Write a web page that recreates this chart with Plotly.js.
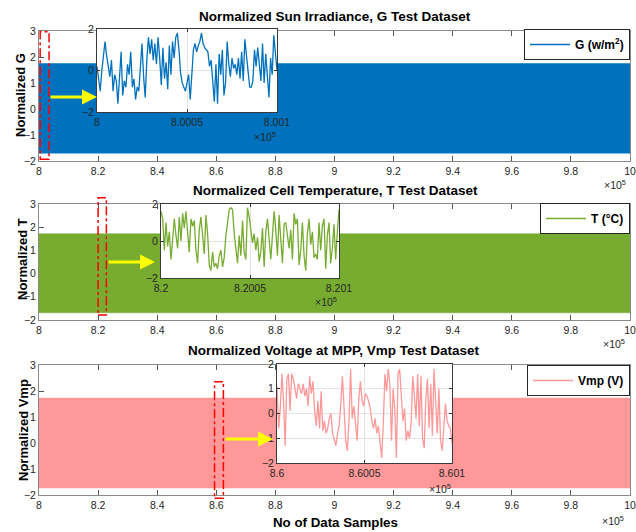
<!DOCTYPE html>
<html>
<head>
<meta charset="utf-8">
<script src="https://cdn.plot.ly/plotly-3.0.1.min.js"></script>
<style>html,body{margin:0;padding:0;background:#fff}#chart{width:636px;height:532px}</style>
</head>
<body>
<div id="chart"></div>
<script>
// ---------- data ----------
const bandX = [800000, 1000000];
const gUpper = [1.75, 1.75], gLower = [-1.7, -1.7];
const tUpper = [1.72, 1.72], tLower = [-1.69, -1.69];
const vUpper = [1.73, 1.73], vLower = [-1.73, -1.73];

const mainTickVals = [800000, 820000, 840000, 860000, 880000, 900000, 920000, 940000, 960000, 980000, 1000000];
const mainTickText = ['8', '8.2', '8.4', '8.6', '8.8', '9', '9.2', '9.4', '9.6', '9.8', '10'];

const gInsetStart = 800000, tInsetStart = 820000, vInsetStart = 860000, insetSpan = 100;
const gInsetTickText = ['8', '8.0005', '8.001'];
const tInsetTickText = ['8.2', '8.2005', '8.201'];
const vInsetTickText = ['8.6', '8.6005', '8.601'];

const gInset = [0.2,-0.5,-1.0,0.0,0.8,1.4,0.7,0.2,-0.3,0.5,
 -1.0,-0.2,-0.5,-1.6,-0.3,0.9,-1.2,-0.5,-0.8,0.3,
 -0.2,0.9,-0.8,-0.4,-1.4,-0.8,-1.0,0.2,1.3,-0.3,
 -1.3,0.5,1.6,0.8,1.5,0.5,1.3,0.3,1.6,0.6,
 -0.7,1.1,-0.4,0.4,-0.9,1.2,-0.2,1.4,0.6,1.6,
 1.8,1.0,-0.1,-0.6,-0.8,-1.0,-0.6,-0.2,-1.4,-0.3,
 1.0,1.3,0.9,1.2,1.4,1.8,1.3,1.1,1.0,0.9,
 0.2,0.5,-0.5,-1.5,0.3,-1.6,0.8,-0.2,1.0,-1.2,
 -0.6,1.4,0.3,-0.3,0.6,0.1,0.3,-0.2,0.6,-0.4,
 0.9,-0.5,1.5,0.8,-0.2,-0.8,-0.8,-0.5,1.0,0.2,
 1.1,0.4,-0.5,1.3,-0.6,0.8,-0.3,-1.3,0.6,-0.2,1.7,1.0,0.0];

const tInset = [1.6,1.2,-0.5,1.0,-0.3,0.5,-1.0,0.2,1.2,0.3,
 -0.4,1.3,0.0,1.5,0.7,1.6,0.2,-0.6,1.2,0.8,
 1.1,-0.5,-1.2,0.6,1.3,0.1,-0.7,1.4,0.4,-1.3,
 -1.6,-0.6,-1.4,-1.2,-1.5,-0.8,-0.5,-1.4,-0.9,0.3,
 1.0,1.7,1.8,1.7,0.4,-0.5,-1.2,0.3,-0.8,1.1,
 -0.6,-1.0,1.8,1.3,0.5,-0.1,0.4,-0.5,0.2,-1.1,
 -0.6,0.7,-1.4,0.5,1.2,0.2,-1.0,0.3,1.6,0.6,
 -0.8,1.4,-0.2,-1.2,0.9,1.0,0.3,-0.4,0.6,-1.0,
 1.5,0.9,1.2,-1.3,-0.5,1.0,-0.8,-1.6,0.4,1.2,
 -0.2,0.5,-0.9,-0.7,-1.0,1.0,-0.5,0.8,1.2,-1.5,
 0.3,1.0,-1.2,-0.4,0.9,-1.0,0.5,1.7];

const vInset = [1.1,-0.6,0.2,1.6,0.5,-1.3,1.4,1.6,0.1,1.6,
 1.4,0.9,0.6,1.2,1.0,0.8,1.2,0.7,1.0,0.3,
 1.5,0.8,1.3,0.1,-0.5,0.5,-0.6,0.9,-0.7,-0.3,
 -0.8,-0.6,-0.2,0.0,-0.8,-1.1,-1.3,-0.8,-0.5,0.4,
 1.5,0.2,-1.1,-1.5,-0.3,1.8,-0.2,0.3,-0.5,-1.1,
 0.6,1.3,0.5,0.3,0.8,0.7,0.5,0.2,-0.3,-0.6,
 -0.2,-0.8,-0.5,-1.1,-1.8,-0.4,1.6,0.9,1.8,1.2,
 -1.1,1.0,0.2,-1.8,1.6,1.8,0.5,-0.3,0.2,-1.1,
 -0.7,-1.0,-0.4,1.5,0.7,-0.2,1.6,-0.5,1.5,-1.0,
 -1.4,0.6,1.4,-0.6,1.2,-0.9,1.8,0.6,-0.8,1.0,
 -1.1,-1.5,-0.6,0.4,-0.3,-0.5,-0.6,-1.2];

// ---------- styles ----------
const W = 636, H = 532;
const FONT = 'Liberation Sans, Arial, Helvetica, sans-serif';
const TXT = '#262626';
const cG = '#0072BD', cT = '#77AC30', cV = '#FF9999';
const px = v => v / W;
const py = v => 1 - v / H;
const RIGHT = 630;

function sampleX(start, n) { return Array.from({length: n}, (_, i) => start + i * insetSpan / (n - 1)); }

const traces = [];
function band(xa, ya, up, lo, col) {
  traces.push({x: bandX, y: lo, xaxis: xa, yaxis: ya, mode: 'lines', line: {color: col, width: 0.5}, showlegend: false, hoverinfo: 'skip'});
  traces.push({x: bandX, y: up, xaxis: xa, yaxis: ya, mode: 'lines', line: {color: col, width: 0.5}, fill: 'tonexty', fillcolor: col, showlegend: false, hoverinfo: 'skip'});
}
band('x', 'y', gUpper, gLower, cG);
band('x2', 'y2', tUpper, tLower, cT);
band('x3', 'y3', vUpper, vLower, cV);

traces.push({x: sampleX(gInsetStart, gInset.length), y: gInset, xaxis: 'x4', yaxis: 'y4', mode: 'lines', line: {color: cG, width: 1.3}, name: '<b>G (w/m<sup>2</sup>)</b>', legend: 'legend'});
traces.push({x: sampleX(tInsetStart, tInset.length), y: tInset, xaxis: 'x5', yaxis: 'y5', mode: 'lines', line: {color: cT, width: 1.3}, name: '<b>T (°C)</b>', legend: 'legend2'});
traces.push({x: sampleX(vInsetStart, vInset.length), y: vInset, xaxis: 'x6', yaxis: 'y6', mode: 'lines', line: {color: cV, width: 1.3}, name: '<b>Vmp (V)</b>', legend: 'legend3'});

function mainX(y) {
  return {domain: [px(39), px(RIGHT)], anchor: y, range: [800000, 1000000], tickvals: mainTickVals, ticktext: mainTickText,
    ticks: 'inside', ticklen: 5, tickcolor: '#555', showline: true, linecolor: '#8a8a8a', linewidth: 1, mirror: 'ticks',
    showgrid: false, zeroline: false, layer: 'below traces', ticklabeloverflow: 'allow',
    tickfont: {family: FONT, size: 10.5, color: TXT}};
}
function mainY(x, top, bot) {
  return {domain: [py(bot), py(top)], anchor: x, range: [-2, 3], dtick: 1, tick0: 0,
    ticks: 'inside', ticklen: 5, tickcolor: '#555', showline: true, linecolor: '#8a8a8a', linewidth: 1, mirror: 'ticks',
    showgrid: false, zeroline: false, layer: 'below traces', ticklabeloverflow: 'allow',
    tickfont: {family: FONT, size: 10.5, color: TXT}};
}
function insetX(y, l, r, start, tt) {
  return {domain: [px(l), px(r)], anchor: y, range: [start, start + insetSpan], tickvals: [start, start + insetSpan / 2, start + insetSpan], ticktext: tt,
    ticks: 'inside', ticklen: 3, tickcolor: '#333', showline: true, linecolor: '#3a3a3a', linewidth: 1, mirror: 'ticks',
    showgrid: true, gridcolor: '#e3e3e3', zeroline: false, ticklabeloverflow: 'allow',
    tickfont: {family: FONT, size: 10.5, color: TXT}};
}
function insetY(x, top, bot, dt) {
  return {domain: [py(bot), py(top)], anchor: x, range: [-2, 2], dtick: dt, tick0: 0,
    ticks: 'inside', ticklen: 3, tickcolor: '#333', showline: true, linecolor: '#3a3a3a', linewidth: 1, mirror: 'ticks',
    showgrid: true, gridcolor: '#e3e3e3', zeroline: false, ticklabeloverflow: 'allow',
    tickfont: {family: FONT, size: 10.5, color: TXT}};
}

const ann = [];
function txt(x, y, text, size, extra) { ann.push(Object.assign({xref: 'paper', yref: 'paper', x: px(x), y: py(y), text: text, showarrow: false, xanchor: 'center', yanchor: 'middle', font: {family: FONT, size: size, color: '#000'}}, extra || {})); }
txt(335, 17, '<b>Normalized Sun Irradiance, G Test Dataset</b>', 13.5);
txt(335, 190.5, '<b>Normalized Cell Temperature, T Test Dataset</b>', 13.5);
txt(334, 350, '<b>Normalized Voltage at MPP, Vmp Test Dataset</b>', 13.5);
txt(335, 522, '<b>No of Data Samples</b>', 13.3);
txt(20, 95, '<b>Normalized G</b>', 13, {textangle: -90});
txt(22, 259, '<b>Normalized T</b>', 13, {textangle: -90});
txt(23, 430, '<b>Normalized Vmp</b>', 13, {textangle: -90});
const mult = '×10<sup>5</sup>';
const mFont = {family: FONT, size: 10.5, color: TXT};
txt(615, 184, mult, 10.5, {font: mFont});
txt(614, 343, mult, 10.5, {font: mFont});
txt(613, 520, mult, 10.5, {font: mFont});
txt(265, 136, mult, 10.5, {font: mFont});
txt(326, 301, mult, 10.5, {font: mFont});
txt(440, 488, mult, 10.5, {font: mFont});

function arrow(hx, hy, tx) {
  ann.push({xref: 'paper', yref: 'paper', x: px(hx), y: py(hy), ax: tx - hx, ay: 0, axref: 'pixel', ayref: 'pixel', text: '', showarrow: true,
    arrowcolor: '#FFFF00', arrowwidth: 3, arrowhead: 2, arrowsize: 1, standoff: 0});
}
arrow(97, 97, 49);
arrow(155, 262, 107);
arrow(273, 439, 224);

function rect(xr, yr, x0, x1, y0, y1) {
  return {type: 'rect', xref: xr + ' domain', yref: yr + ' domain', x0: x0, x1: x1, y0: y0, y1: y1,
    line: {color: '#FF0000', width: 1.5, dash: 'dashdot'}, fillcolor: 'rgba(0,0,0,0)', layer: 'above'};
}

const legendBase = {xanchor: 'right', yanchor: 'top', bgcolor: '#fff', bordercolor: '#262626', borderwidth: 1,
  font: {family: FONT, size: 12, color: '#000'}, itemwidth: 40, tracegroupgap: 0};

const layout = {
  width: W, height: H, margin: {l: 0, r: 0, t: 0, b: 0}, paper_bgcolor: '#fff', plot_bgcolor: '#fff',
  showlegend: true,
  xaxis: mainX('y'), yaxis: mainY('x', 31, 161),
  xaxis2: mainX('y2'), yaxis2: mainY('x2', 204, 320),
  xaxis3: mainX('y3'), yaxis3: mainY('x3', 365, 495),
  xaxis4: insetX('y4', 97, 277, gInsetStart, gInsetTickText), yaxis4: insetY('x4', 29, 112, 2),
  xaxis5: insetX('y5', 161, 339, tInsetStart, tInsetTickText), yaxis5: insetY('x5', 204, 278, 2),
  xaxis6: insetX('y6', 277, 452, vInsetStart, vInsetTickText), yaxis6: insetY('x6', 364, 463, 1),
  legend: Object.assign({}, legendBase, {x: px(RIGHT), y: py(29)}),
  legend2: Object.assign({}, legendBase, {x: px(RIGHT), y: py(203)}),
  legend3: Object.assign({}, legendBase, {x: px(RIGHT), y: py(365)}),
  annotations: ann,
  shapes: [
    rect('x', 'y', 0.002, 0.017, 0.013, 0.995),
    rect('x2', 'y2', 0.100, 0.114, 0.043, 1.054),
    rect('x3', 'y3', 0.297, 0.312, -0.025, 0.872)
  ]
};

Plotly.newPlot('chart', traces, layout, {displayModeBar: false, staticPlot: true});
</script>
</body>
</html>
